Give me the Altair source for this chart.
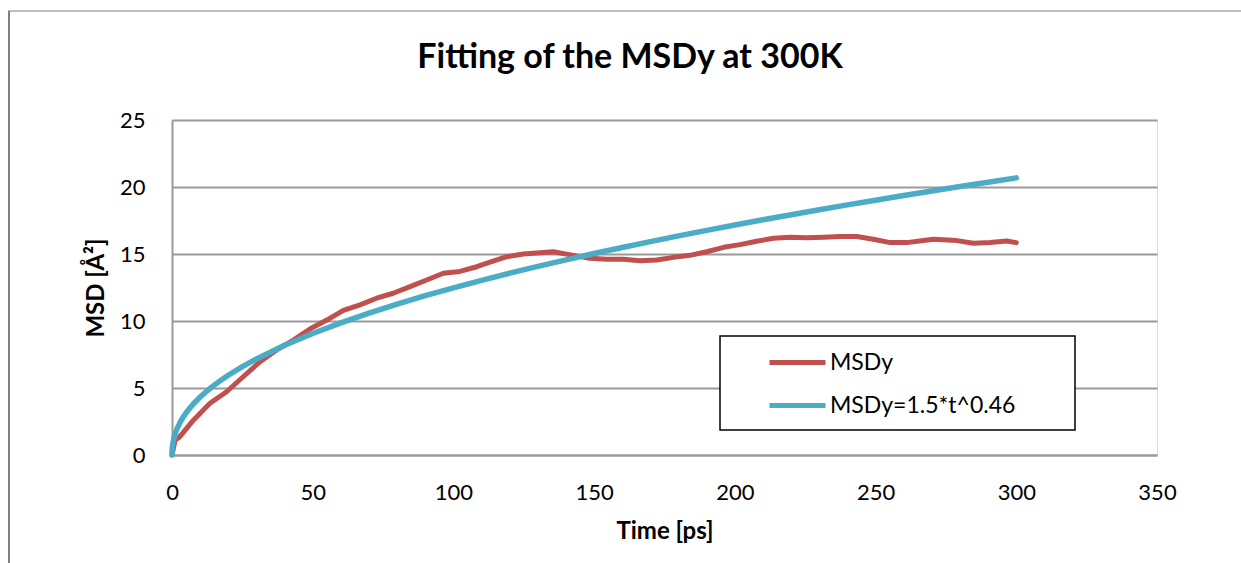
import altair as alt
import pandas as pd

# Simulated MSD along y (Å²) versus time (ps)
TIME_PS = [0, 1.1, 2.8, 7.6, 13.5, 19.4, 25.3, 31.3, 37.2, 43.1, 49, 55, 60.9, 66.8,
           72.7, 78.6, 84.6, 90.5, 96.4, 102.3, 108.3, 113, 119, 124.8, 130.8, 135.5,
           142.6, 148.5, 154.5, 160.4, 166.3, 172.2, 178.2, 184, 190, 196, 201.8, 207.7,
           213.7, 219.6, 225.5, 231.5, 237.4, 243.3, 249.2, 255.2, 261.1, 267, 270.6,
           278.9, 284.8, 290.7, 296.6, 300]
MSDY = [0, 1.1, 1.37, 2.6, 3.86, 4.72, 5.84, 6.96, 7.84, 8.58, 9.4, 10.07, 10.8, 11.2,
        11.7, 12.07, 12.56, 13.06, 13.56, 13.7, 14.05, 14.4, 14.8, 15.0, 15.1, 15.17,
        14.9, 14.68, 14.6, 14.6, 14.5, 14.55, 14.75, 14.9, 15.17, 15.5, 15.7, 15.95,
        16.17, 16.25, 16.22, 16.25, 16.3, 16.3, 16.1, 15.85, 15.85, 16.0, 16.1,
        16.0, 15.8, 15.85, 15.97, 15.85]

# Power-law fit MSDy = a * t^b, as given in the legend
FIT_A = 1.5
FIT_B = 0.46
FIT_TIME = [0, 0.02, 0.1, 0.3, 0.6, 1, 1.5, 2, 3, 4, 5, 6.5, 8, 10, 12.5, 15, 17.5,
            20, 25, 30] + list(range(40, 301, 10))

SERIES = ["MSDy", f"MSDy={FIT_A}*t^{FIT_B}"]
COLORS = ["#C0504D", "#4BACC6"]

X_TICKS = [0, 50, 100, 150, 200, 250, 300, 350]
Y_TICKS = [0, 5, 10, 15, 20, 25]

FONT = "Lato"
GRID = "#9a9a9a"

msd_df = pd.DataFrame({"t": TIME_PS, "msd": MSDY, "series": SERIES[0]})
fit_df = pd.DataFrame({
    "t": FIT_TIME,
    "msd": [FIT_A * t ** FIT_B for t in FIT_TIME],
    "series": SERIES[1],
})

x_enc = alt.X(
    "t:Q",
    scale=alt.Scale(domain=[0, 350], nice=False),
    axis=alt.Axis(
        values=X_TICKS, title="Time [ps]", grid=False, ticks=False,
        domainColor=GRID, domainWidth=2, labelFont=FONT, labelFontSize=22,
        labelColor="black", labelPadding=27, labelFlush=False,
        titleFont=FONT, titleFontSize=24, titleFontWeight="bold", titleColor="black",
        titleY=83, titleBaseline="alphabetic",
    ),
)
y_enc = alt.Y(
    "msd:Q",
    scale=alt.Scale(domain=[0, 25], nice=False),
    axis=alt.Axis(
        values=Y_TICKS, title="MSD [Å²]", grid=True, gridColor=GRID, gridWidth=2,
        ticks=False, domainColor=GRID, domainWidth=2, labelFont=FONT,
        labelFontSize=22, labelColor="black", labelPadding=27, labelFlush=False,
        titleFont=FONT, titleFontSize=24, titleFontWeight="bold", titleColor="black",
        titleAngle=270, titleX=-69, titleBaseline="alphabetic",
    ),
)
color_enc = alt.Color(
    "series:N",
    scale=alt.Scale(domain=SERIES, range=COLORS),
    legend=alt.Legend(
        orient="none", legendX=595, legendY=212, title=None,
        symbolType="stroke", symbolStrokeWidth=5, symbolSize=3136,
        labelFont=FONT, labelFontSize=23, labelColor="black", labelOffset=2,
        labelLimit=400, rowPadding=-10, padding=0,
    ),
)

one = pd.DataFrame({"k": [0]})

# thin frame along the left and top edges of the figure
frame_left = alt.Chart(one).mark_rule(color="#808080", strokeWidth=2).encode(
    x=alt.value(-163), y=alt.value(-109), y2=alt.value(443)
)
frame_top = alt.Chart(one).mark_rule(color="#808080", strokeWidth=1).encode(
    y=alt.value(-109), x=alt.value(-164), x2=alt.value(1069)
)

title = alt.Chart(one).mark_text(
    text="Fitting of the MSDy at 300K", font=FONT, fontSize=34, fontWeight="bold",
    color="black", align="center", baseline="alphabetic",
).encode(x=alt.value(458), y=alt.value(-52))

legend_box = alt.Chart(one).mark_rect(fill="white", stroke="black", strokeWidth=1.5).encode(
    x=alt.value(548), x2=alt.value(903), y=alt.value(216), y2=alt.value(310)
)

msd_line = alt.Chart(msd_df).mark_line(strokeWidth=5, strokeCap="round", strokeJoin="round").encode(
    x=x_enc, y=y_enc, color=color_enc
)
fit_line = alt.Chart(fit_df).mark_line(strokeWidth=5.5, strokeCap="round", strokeJoin="round").encode(
    x=x_enc, y=y_enc, color=color_enc
)

chart = alt.layer(frame_left, frame_top, title, legend_box, msd_line, fit_line).properties(
    width=985,
    height=335,
    autosize=alt.AutoSizeParams(type="none"),
    padding={"left": 172, "top": 120, "right": 84, "bottom": 108},
).configure_view(stroke=None).configure(background="white")

chart.save("out.html", embed_options={"renderer": "svg", "actions": False})
